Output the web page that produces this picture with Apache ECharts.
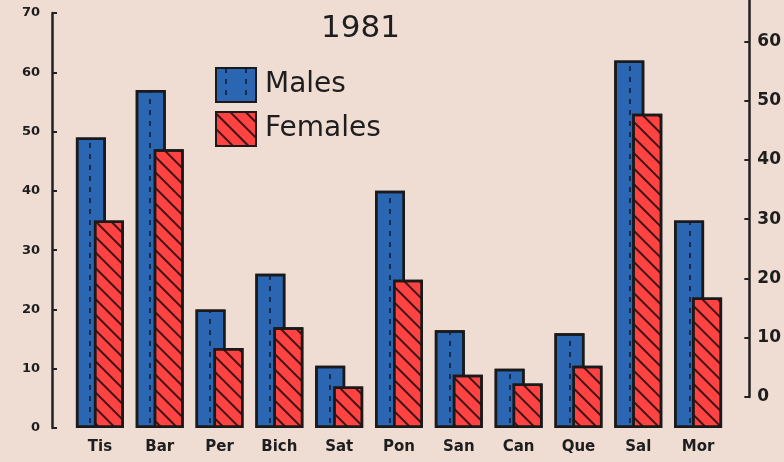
<!DOCTYPE html>
<html>
<head>
<meta charset="utf-8">
<script src="https://cdn.jsdelivr.net/npm/echarts@6/dist/echarts.min.js"></script>
<style>
html,body{margin:0;padding:0;background:#efdcd3;}
#c{width:784px;height:462px;}
</style>
</head>
<body>
<div id="c"></div>
<script>
var categories = ["Tis","Bar","Per","Bich","Sat","Pon","San","Can","Que","Sal","Mor"];
var males = [49,57,20,26,10.5,40,16.5,10,16,62,35];
var females = [35,47,13.5,17,7,25,9,7.5,10.5,53,22];
var leftTicks = [0,70,10];
var rightTicks = [0,67,10];
var titleText = "1981";

var font = "DejaVu Sans";
var chart = echarts.init(document.getElementById('c'), null, {renderer:'canvas'});
chart.setOption({
  backgroundColor: '#efdcd3',
  animation: false,
  title: {
    text: titleText, left: 316, top: 8,
    textStyle: {fontFamily: font, fontSize: 31, fontWeight: 'normal', color: '#1e1e1e'}
  },
  legend: {
    orient: 'vertical', left: 210, top: 62, itemWidth: 40, itemHeight: 34, itemGap: 8,
    icon: 'rect',
    textStyle: {fontFamily: font, fontSize: 28, color: '#1e1e1e', padding:[0,0,0,4]},
    data: ['Males','Females']
  },
  grid: [
    {left: 70, right: 56, top: 13, bottom: 34},
    {left: 70, right: 32, top: 0, bottom: 65}
  ],
  xAxis: [
    {type: 'category', gridIndex: 0, data: categories,
     axisLine: {show: false}, axisTick: {show: false},
     axisLabel: {fontFamily: font, fontSize: 15, color: '#1e1e1e', margin: 12, fontWeight: 'bold'}},
    {type: 'category', gridIndex: 1, data: categories, show: false}
  ],
  yAxis: [
    {type: 'value', gridIndex: 0, min: leftTicks[0], max: leftTicks[1], interval: leftTicks[2],
     offset: 18, position: 'left',
     splitLine: {show: false},
     axisLine: {show: true, lineStyle: {color: '#222', width: 2.5}},
     axisTick: {show: true, inside: true, length: 5, lineStyle: {color: '#222', width: 2}},
     axisLabel: {fontFamily: font, fontSize: 13, fontWeight: 'bold', color: '#1e1e1e', margin: 12}},
    {type: 'value', gridIndex: 1, min: rightTicks[0], max: rightTicks[1], interval: rightTicks[2],
     position: 'right',
     splitLine: {show: false},
     axisLine: {show: true, lineStyle: {color: '#222', width: 2.5}},
     axisTick: {show: true, inside: true, length: 5, lineStyle: {color: '#222', width: 2}},
     axisLabel: {fontFamily: font, fontSize: 17, fontWeight: 'bold', color: '#1e1e1e', margin: 8, showMaxLabel: false,
       formatter: function(v){ return v <= 60 ? String(v) : ''; }}}
  ],
  series: [
    {name: 'Males', type: 'bar', xAxisIndex: 0, yAxisIndex: 0, data: males,
     barWidth: 30, barGap: '-40%',
     itemStyle: {color: '#2b66b3', borderColor: '#1a1a1a', borderWidth: 2.5,
       decal: {symbol: 'rect', color: 'rgba(15,25,45,0.75)', dashArrayX: [[0,9,2,9]], dashArrayY: [5,6], rotation: 0, symbolSize: 1}}},
    {name: 'Females', type: 'bar', xAxisIndex: 0, yAxisIndex: 0, data: females,
     barWidth: 30, barGap: '-40%',
     itemStyle: {color: '#ff4242', borderColor: '#1a1a1a', borderWidth: 2.5,
       decal: {symbol: 'rect', color: 'rgba(30,10,10,0.85)', dashArrayX: [1,0], dashArrayY: [2,9], rotation: Math.PI/4, symbolSize: 1}}}
  ]
});
</script>
</body>
</html>
